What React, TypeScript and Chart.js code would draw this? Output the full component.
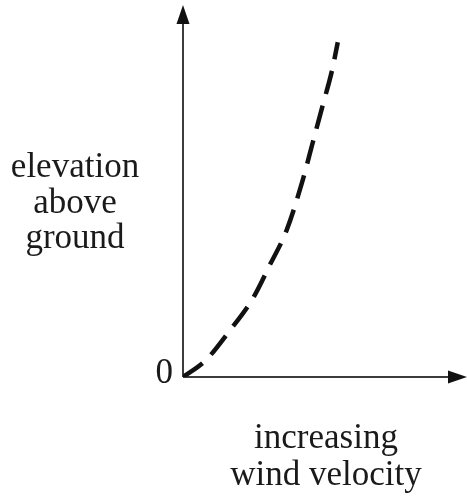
import React, { useEffect, useRef } from "react";
import { Chart, registerables } from "chart.js";

Chart.register(...registerables);

// Data (arbitrary units, 0..100 on both axes)
const windVelocity = [0, 8, 16.5, 24.5, 30.5, 36.5, 42, 45.5, 49, 52.5, 54.5];
const elevation = [0, 4.5, 12.5, 21, 30, 39.5, 52.5, 62.5, 72.5, 82.5, 90];

const yTitleLines = ["elevation", "above", "ground"];
const xTitleLines = ["increasing", "wind velocity"];
const originLabel = "0";

const FONT = '35px "Liberation Serif", "Times New Roman", serif';
const AXIS_COLOR = "#3c3c3c";

const axesPlugin = {
  id: "arrowAxes",
  beforeDatasetsDraw(chart: any) {
    const { ctx, chartArea } = chart;
    const { left, right, top, bottom } = chartArea;
    const headLen = 19;
    const halfW = 6.5;
    ctx.save();
    ctx.strokeStyle = AXIS_COLOR;
    ctx.fillStyle = "#111";
    ctx.lineWidth = 2;
    // y axis
    ctx.beginPath();
    ctx.moveTo(left, bottom);
    ctx.lineTo(left, top + headLen - 2);
    ctx.stroke();
    // x axis
    ctx.beginPath();
    ctx.moveTo(left, bottom);
    ctx.lineTo(right - headLen + 2, bottom);
    ctx.stroke();
    // y arrow head
    ctx.beginPath();
    ctx.moveTo(left, top);
    ctx.lineTo(left - halfW, top + headLen);
    ctx.lineTo(left + halfW, top + headLen);
    ctx.closePath();
    ctx.fill();
    // x arrow head
    ctx.beginPath();
    ctx.moveTo(right, bottom);
    ctx.lineTo(right - headLen, bottom - halfW);
    ctx.lineTo(right - headLen, bottom + halfW);
    ctx.closePath();
    ctx.fill();
    ctx.restore();
  },
  afterDraw(chart: any) {
    const { ctx, chartArea } = chart;
    const { left, right, bottom, top } = chartArea;
    ctx.save();
    ctx.font = FONT;
    ctx.fillStyle = "#1a1a1a";
    ctx.textBaseline = "alphabetic";
    // origin label
    ctx.textAlign = "right";
    ctx.fillText(originLabel, left - 10, bottom + 6);
    // y title
    ctx.textAlign = "center";
    const yCenterX = left - 108;
    const yBase = top + 172;
    yTitleLines.forEach((t, i) => ctx.fillText(t, yCenterX, yBase + i * 35.5));
    // x title
    const xCenterX = (left + right) / 2 + 1;
    const xBase = bottom + 71;
    xTitleLines.forEach((t, i) => ctx.fillText(t, xCenterX, xBase + i * 37));
    ctx.restore();
  },
};

export default function App() {
  const ref = useRef<HTMLCanvasElement>(null);
  useEffect(() => {
    if (!ref.current) return;
    const chart = new Chart(ref.current, {
      type: "scatter",
      data: {
        datasets: [
          {
            data: windVelocity.map((v, i) => ({ x: v, y: elevation[i] })),
            showLine: true,
            borderColor: "#111",
            borderWidth: 4.5,
            borderDash: [24, 12],
            borderCapStyle: "butt",
            pointRadius: 0,
            cubicInterpolationMode: "monotone",
            fill: false,
          },
        ],
      },
      options: {
        responsive: false,
        animation: false,
        layout: { padding: { left: 183, top: 5, right: 0, bottom: 122 } },
        plugins: { legend: { display: false }, tooltip: { enabled: false }, title: { display: false } },
        scales: {
          x: { type: "linear", min: 0, max: 100, display: false },
          y: { type: "linear", min: 0, max: 100, display: false },
        },
      },
      plugins: [axesPlugin],
    });
    return () => chart.destroy();
  }, []);
  return (
    <div style={{ position: "fixed", left: 0, top: 0, width: 467, height: 499, background: "#fff" }}>
      <canvas ref={ref} width={467} height={499} />
    </div>
  );
}
